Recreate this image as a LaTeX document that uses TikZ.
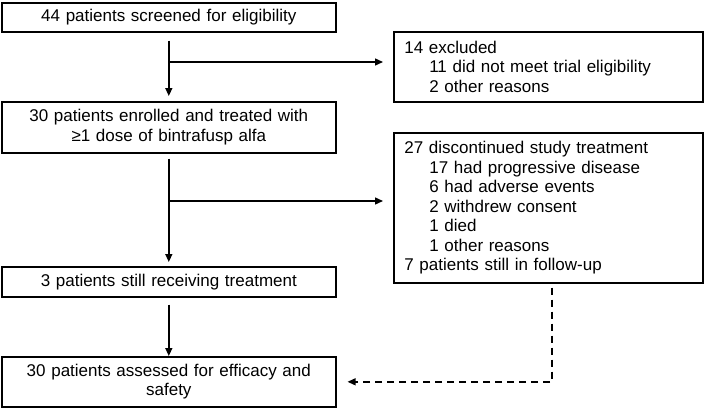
\documentclass[tikz,border=0pt]{standalone}
\usepackage{fontspec}
\setmainfont{Liberation Sans}
\usetikzlibrary{arrows.meta}

\tikzset{
  box/.style={draw, line width=1.6pt, anchor=north west, inner sep=0pt,
    font=\fontsize{17}{19.5}\selectfont},
  midbox/.style={box, align=center, text width=334pt, minimum width=334pt},
  listbox/.style={box, align=left, text width=288pt, inner xsep=10.5pt, minimum width=309pt},
  arr/.style={line width=1.4pt, -{Triangle[length=8pt,width=7pt]}},
  dasharr/.style={arr, dash pattern=on 7pt off 5pt}
}
\newcommand{\ind}{\hspace*{25pt}}

\begin{document}
\begin{tikzpicture}[x=1pt, y=-1pt]

\useasboundingbox (0,0) rectangle (704,407);

% Main column
\node[midbox, minimum height=29pt] (screen) at (1,2) {44 patients screened for eligibility};
\node[midbox, minimum height=51pt] (enrol) at (1,101) {30 patients enrolled and treated with\\≥1 dose of bintrafusp alfa};
\node[midbox, minimum height=30pt] (still) at (1,266) {3 patients still receiving treatment};
\node[midbox, minimum height=50pt] (assess) at (1,356) {30 patients assessed for efficacy and\\safety};

% Side boxes
\node[listbox, minimum height=70pt] (excl) at (393,31) {14 excluded\\
  \ind 11 did not meet trial eligibility\\
  \ind 2 other reasons};
\node[listbox, minimum height=150pt] (disc) at (393,132) {27 discontinued study treatment\\
  \ind 17 had progressive disease\\
  \ind 6 had adverse events\\
  \ind 2 withdrew consent\\
  \ind 1 died\\
  \ind 1 other reasons\\
  7 patients still in follow-up};

% Branch points
\coordinate (b1) at (168,62);
\coordinate (b2) at (168,201);

% Arrows
\draw[arr, shorten <=8pt, shorten >=5pt] (screen) -- (enrol);
\draw[arr, shorten <=5pt, shorten >=4pt] (enrol) -- (still);
\draw[arr, shorten <=7pt] (still) -- (assess);
\draw[arr, shorten >=10pt] (b1) -- (b1 -| excl.west);
\draw[arr, shorten >=10pt] (b2) -- (b2 -| disc.west);
\draw[dasharr, shorten <=4pt, shorten >=11pt] ([xshift=3.5pt]disc.south) |- (assess.east);

\end{tikzpicture}
\end{document}
